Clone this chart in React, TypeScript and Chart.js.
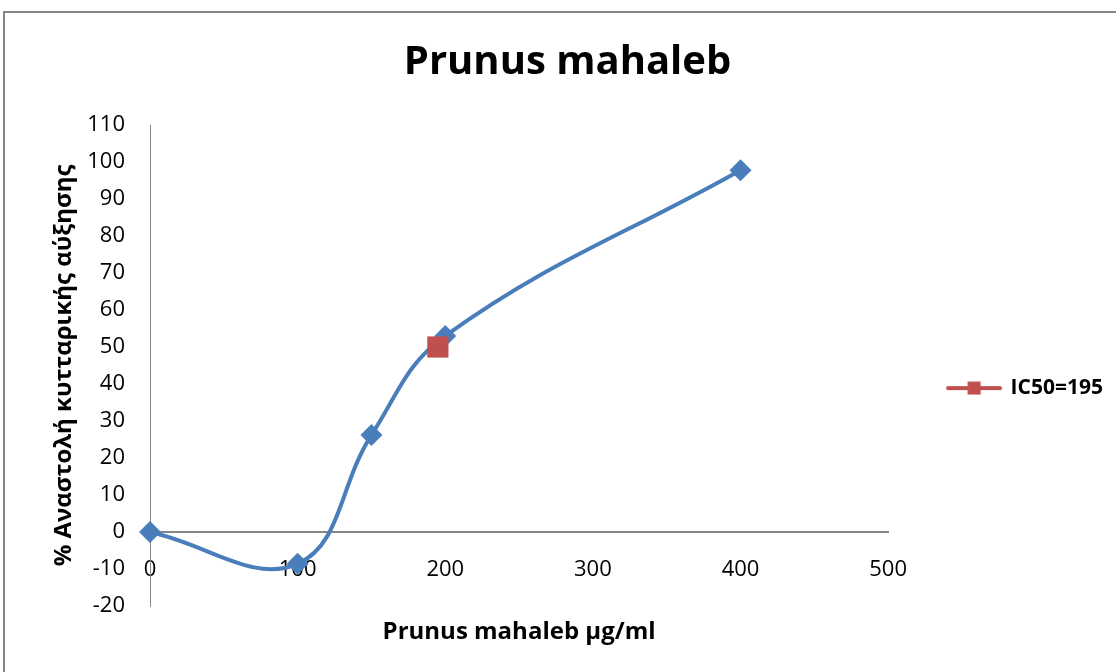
import React, { useEffect, useRef } from 'react';
import { Chart, registerables } from 'chart.js';

Chart.register(...registerables);

// ---- data ----
const concentrations = [0, 100, 150, 200, 400];
const inhibition = [0, -8.6, 26.2, 53, 97.8];
const ic50Concentration = [195];
const ic50Inhibition = [50];
const xTickValues = [0, 100, 200, 300, 400, 500];
const yTickValues = [-20, -10, 0, 10, 20, 30, 40, 50, 60, 70, 80, 90, 100, 110];

const chartTitle = 'Prunus mahaleb';
const xAxisTitle = 'Prunus mahaleb μg/ml';
const yAxisTitle = '% Αναστολή κυτταρικής αύξησης';
const ic50Label = 'IC50=195';

const FONT = "'Open Sans', 'Noto Sans', sans-serif";
const BLUE = '#4A7EBB';
const RED = '#C0504D';
const AXIS = '#868686';

function makeLegendImage(): HTMLCanvasElement {
  const c = document.createElement('canvas');
  c.width = 56;
  c.height = 14;
  const g = c.getContext('2d')!;
  g.strokeStyle = RED;
  g.lineWidth = 4;
  g.lineCap = 'round';
  g.beginPath();
  g.moveTo(2, 7);
  g.lineTo(54, 7);
  g.stroke();
  g.fillStyle = RED;
  g.fillRect(28 - 6.5, 0.5, 13, 13);
  return c;
}

const framePlugin = {
  id: 'frameAndXTitle',
  beforeDraw(chart: any) {
    const ctx = chart.ctx;
    ctx.save();
    ctx.strokeStyle = AXIS;
    ctx.lineWidth = 2;
    ctx.strokeRect(4, 12, 1300, 900);
    ctx.restore();
  },
  afterDraw(chart: any) {
    const ctx = chart.ctx;
    const area = chart.chartArea;
    ctx.save();
    ctx.fillStyle = '#000';
    ctx.font = `bold 24px ${FONT}`;
    ctx.textAlign = 'center';
    ctx.textBaseline = 'middle';
    ctx.fillText(xAxisTitle, (area.left + area.right) / 2, 632);
    ctx.restore();
  },
};

export default function App() {
  const ref = useRef<HTMLCanvasElement | null>(null);

  useEffect(() => {
    if (!ref.current) return;
    const legendImg = makeLegendImage();
    const tickFont = { family: FONT, size: 22 };

    const chart = new Chart(ref.current, {
      type: 'scatter',
      data: {
        datasets: [
          {
            label: ic50Label,
            data: ic50Concentration.map((x, i) => ({ x, y: ic50Inhibition[i] })),
            showLine: false,
            pointStyle: 'rect',
            pointRadius: 15,
            pointBackgroundColor: RED,
            pointBorderColor: RED,
            pointBorderWidth: 0,
            backgroundColor: RED,
            borderColor: RED,
            clip: false,
          } as any,
          {
            label: chartTitle,
            data: concentrations.map((x, i) => ({ x, y: inhibition[i] })),
            showLine: true,
            borderColor: BLUE,
            borderWidth: 4,
            tension: 0.4,
            pointStyle: 'rectRot',
            pointRadius: 11,
            pointBackgroundColor: BLUE,
            pointBorderColor: BLUE,
            pointBorderWidth: 0,
            clip: false,
          } as any,
        ],
      },
      options: {
        responsive: false,
        animation: false,
        events: [],
        layout: { padding: { left: 22, right: 3, top: 0, bottom: 66 } },
        plugins: {
          title: {
            display: true,
            text: chartTitle,
            color: '#000',
            font: { family: FONT, size: 40, weight: 'bold' },
            padding: { top: 39, bottom: 38 },
          },
          legend: {
            position: 'right',
            fullSize: false,
            title: { display: true, text: ' ', font: { size: 1 }, padding: 22 },
            labels: {
              usePointStyle: true,
              pointStyleWidth: 52,
              padding: 60,
              color: '#000',
              font: { family: FONT, size: 21, weight: 'bold' },
              generateLabels: () => [
                {
                  text: ic50Label,
                  pointStyle: legendImg as any,
                  fillStyle: RED,
                  strokeStyle: RED,
                  fontColor: '#000',
                  lineWidth: 0,
                  hidden: false,
                  datasetIndex: 0,
                } as any,
              ],
            },
          },
          tooltip: { enabled: false },
        },
        scales: {
          x: {
            type: 'linear',
            position: { y: 0 } as any,
            min: 0,
            max: 500,
            afterBuildTicks: (s: any) => {
              s.ticks = xTickValues.map((v) => ({ value: v }));
            },
            afterFit: (s: any) => {
              s.height = 0;
            },
            grid: { display: false, drawTicks: false },
            border: { display: true, color: AXIS, width: 2 },
            ticks: { padding: 25, color: '#000', font: tickFont, maxRotation: 0 },
          },
          y: {
            type: 'linear',
            min: -20,
            max: 110,
            afterBuildTicks: (s: any) => {
              s.ticks = yTickValues.map((v) => ({ value: v }));
            },
            afterFit: (s: any) => {
              s.width = 128;
            },
            grid: { display: false, drawTicks: false },
            border: { display: true, color: AXIS, width: 1 },
            ticks: { padding: 25, color: '#000', font: tickFont },
            title: {
              display: true,
              text: yAxisTitle,
              color: '#000',
              font: { family: FONT, size: 24, weight: 'bold' },
              padding: { top: 28, bottom: 0 },
            },
          },
        },
      } as any,
      plugins: [framePlugin],
    });
    return () => chart.destroy();
  }, []);

  return (
    <div style={{ position: 'absolute', left: 0, top: 0, width: 1116, height: 672, background: '#fff' }}>
      <canvas ref={ref} width={1116} height={672} style={{ display: 'block' }} />
    </div>
  );
}
